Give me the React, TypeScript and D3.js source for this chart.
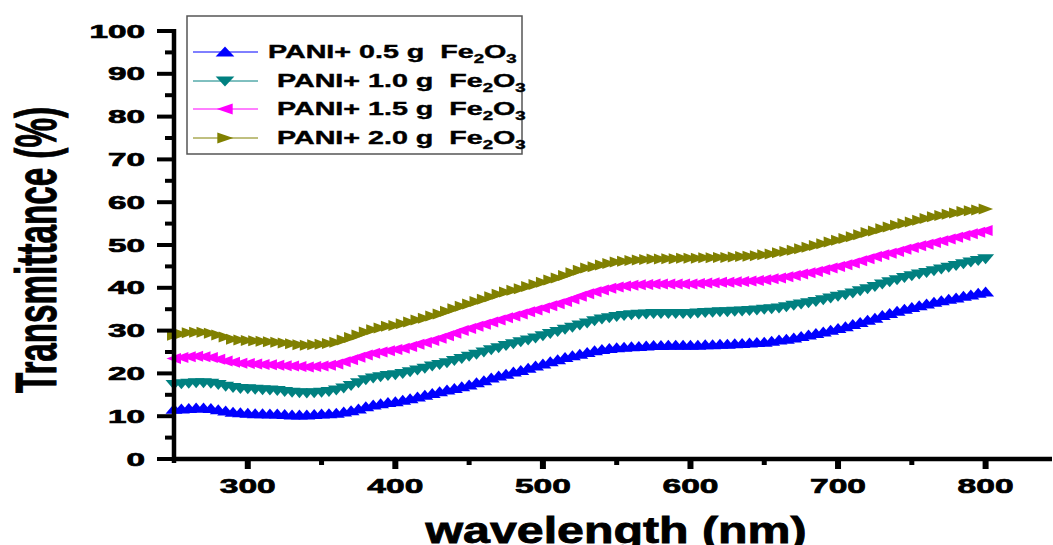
import React from "react";
import * as d3 from "d3";

const WIDTH = 1053;
const HEIGHT = 545;

// wavelength grid (nm), sampled every 5 nm from 250 to 800
const wavelengths: number[] = d3.range(250, 805, 5);

const seriesLabels = ["PANI+ 0.5 g  Fe", "PANI+ 1.0 g  Fe", "PANI+ 1.5 g  Fe", "PANI+ 2.0 g  Fe"];

const pani05: number[] = [
  11.6, 11.7, 11.8, 11.9, 11.9, 11.8, 11.5, 11.2, 10.9, 10.8,
  10.7, 10.6, 10.6, 10.5, 10.5, 10.4, 10.3, 10.3, 10.3, 10.4,
  10.5, 10.6, 10.7, 11.0, 11.3, 11.7, 12.2, 12.6, 12.9, 13.2,
  13.4, 13.7, 14.1, 14.5, 14.9, 15.3, 15.7, 16.1, 16.5, 16.9,
  17.3, 17.8, 18.3, 18.9, 19.4, 19.8, 20.3, 20.7, 21.2, 21.7,
  22.2, 22.7, 23.2, 23.7, 24.1, 24.5, 24.9, 25.3, 25.6, 25.8,
  26.0, 26.1, 26.2, 26.3, 26.4, 26.5, 26.5, 26.6, 26.6, 26.6,
  26.6, 26.6, 26.7, 26.7, 26.8, 26.8, 26.9, 27.0, 27.1, 27.2,
  27.3, 27.5, 27.8, 28.0, 28.3, 28.6, 29.0, 29.3, 29.7, 30.1,
  30.5, 30.9, 31.4, 31.9, 32.4, 32.9, 33.5, 34.0, 34.5, 35.0,
  35.4, 35.8, 36.2, 36.6, 37.0, 37.3, 37.6, 38.0, 38.3, 38.7,
  39.0,
];

const pani10: number[] = [
  17.4, 17.6, 17.7, 17.8, 17.8, 17.7, 17.4, 17.0, 16.7, 16.5,
  16.4, 16.3, 16.2, 16.1, 16.0, 15.8, 15.6, 15.5, 15.4, 15.5,
  15.6, 15.8, 16.1, 16.6, 17.2, 17.8, 18.5, 18.9, 19.2, 19.5,
  19.7, 20.0, 20.4, 20.8, 21.2, 21.7, 22.1, 22.5, 23.0, 23.5,
  24.0, 24.5, 25.0, 25.5, 26.0, 26.5, 26.9, 27.4, 27.8, 28.3,
  28.8, 29.3, 29.8, 30.3, 30.8, 31.3, 31.8, 32.3, 32.7, 33.0,
  33.3, 33.5, 33.7, 33.8, 33.9, 34.0, 34.0, 34.0, 34.0, 34.0,
  34.0, 34.1, 34.2, 34.3, 34.4, 34.4, 34.5, 34.6, 34.7, 34.8,
  35.0, 35.1, 35.3, 35.6, 35.9, 36.2, 36.5, 36.8, 37.2, 37.6,
  38.0, 38.4, 38.8, 39.3, 39.8, 40.3, 40.9, 41.4, 41.9, 42.4,
  42.8, 43.2, 43.6, 44.0, 44.4, 44.8, 45.2, 45.6, 46.0, 46.4,
  46.8,
];

const pani15: number[] = [
  23.5, 23.7, 23.9, 24.0, 23.9, 23.7, 23.3, 22.9, 22.6, 22.4,
  22.3, 22.2, 22.1, 22.0, 21.9, 21.8, 21.7, 21.6, 21.5, 21.6,
  21.7, 21.9, 22.2, 22.7, 23.2, 23.8, 24.3, 24.7, 25.0, 25.3,
  25.6, 25.9, 26.3, 26.8, 27.2, 27.7, 28.2, 28.8, 29.4, 30.0,
  30.5, 31.0, 31.5, 32.0, 32.5, 33.0, 33.4, 33.9, 34.4, 34.8,
  35.3, 35.8, 36.3, 36.8, 37.4, 38.0, 38.6, 39.1, 39.5, 39.9,
  40.2, 40.4, 40.6, 40.7, 40.8, 40.9, 40.9, 40.9, 40.9, 40.9,
  40.9, 41.0, 41.1, 41.2, 41.3, 41.3, 41.4, 41.5, 41.6, 41.7,
  41.9, 42.1, 42.3, 42.6, 42.9, 43.2, 43.5, 43.8, 44.2, 44.6,
  45.0, 45.4, 45.8, 46.3, 46.8, 47.3, 47.7, 48.1, 48.5, 49.0,
  49.4, 49.8, 50.2, 50.6, 51.0, 51.4, 51.8, 52.2, 52.6, 53.0,
  53.4,
];

const pani20: number[] = [
  28.9, 29.2, 29.5, 29.6, 29.6, 29.4, 29.0, 28.5, 28.0, 27.8,
  27.7, 27.6, 27.5, 27.4, 27.3, 27.1, 26.9, 26.7, 26.6, 26.7,
  26.8, 27.0, 27.3, 27.8, 28.4, 29.0, 29.7, 30.2, 30.6, 31.0,
  31.2, 31.6, 32.0, 32.5, 32.9, 33.4, 33.9, 34.5, 35.1, 35.7,
  36.2, 36.8, 37.3, 37.9, 38.5, 39.0, 39.4, 39.8, 40.3, 40.8,
  41.3, 41.8, 42.3, 42.9, 43.5, 44.1, 44.6, 44.9, 45.3, 45.7,
  46.0, 46.2, 46.4, 46.5, 46.6, 46.7, 46.7, 46.8, 46.8, 46.9,
  46.9, 46.9, 47.0, 47.0, 47.1, 47.1, 47.2, 47.3, 47.4, 47.5,
  47.7, 47.9, 48.2, 48.5, 48.8, 49.1, 49.5, 49.9, 50.3, 50.7,
  51.1, 51.5, 51.9, 52.4, 52.9, 53.3, 53.8, 54.2, 54.6, 55.0,
  55.4, 55.8, 56.2, 56.6, 56.9, 57.2, 57.5, 57.8, 58.0, 58.2,
  58.4,
];

const seriesValues = [pani05, pani10, pani15, pani20];
const seriesColors = ["#0000FF", "#008080", "#FF00FF", "#808000"];
const seriesMarkers = ["up", "down", "left", "right"];

const yTicks = [0, 10, 20, 30, 40, 50, 60, 70, 80, 90, 100];
const yMinorTicks = [5, 15, 25, 35, 45, 55, 65, 75, 85, 95];
const xTicks = [300, 400, 500, 600, 700, 800];
const xMinorTicks = [350, 450, 550, 650, 750];

const FONT = "'Liberation Sans', Arial, Helvetica, sans-serif";

function markerPath(kind: string): string {
  // stretched triangles (wide horizontally as in the reference)
  if (kind === "up") return "M0,-5.5L8.5,4.5L-8.5,4.5Z";
  if (kind === "down") return "M0,5.5L8.5,-4.5L-8.5,-4.5Z";
  if (kind === "left") return "M-7.5,0L7,-5.5L7,5.5Z";
  return "M7.5,0L-7,-5.5L-7,5.5Z";
}

export default function App() {
  const x = d3.scaleLinear().domain([250, 845]).range([174, 1052]);
  const y = d3.scaleLinear().domain([0, 100]).range([459, 31]);

  const line = d3
    .line<number>()
    .x((_, i) => x(wavelengths[i]))
    .y((d) => y(d));

  const legendRows = [52, 81, 109, 138];
  const legendTextX = [268, 277, 277, 277];

  return (
    <svg
      width={WIDTH}
      height={HEIGHT}
      style={{ position: "absolute", left: 0, top: 0, background: "#fff" }}
      fontFamily={FONT}
    >
      <rect x={0} y={0} width={WIDTH} height={HEIGHT} fill="#fff" />

      {/* series */}
      {seriesValues.map((vals, si) => (
        <g key={si}>
          <path d={line(vals) || ""} fill="none" stroke={seriesColors[si]} strokeWidth={1} />
          {vals.map((v, i) => (
            <path
              key={i}
              d={markerPath(seriesMarkers[si])}
              transform={`translate(${x(wavelengths[i])},${y(v)})`}
              fill={seriesColors[si]}
            />
          ))}
        </g>
      ))}

      {/* y axis */}
      <line x1={x(250)} x2={x(250)} y1={29} y2={463} stroke="#000" strokeWidth={4.5} />
      {yTicks.map((t) => (
        <g key={"yt" + t}>
          <line x1={x(250) - 17} x2={x(250)} y1={y(t)} y2={y(t)} stroke="#000" strokeWidth={4} />
          <text
            x={145}
            y={y(t) + 6.5}
            textAnchor="end"
            fontSize={19}
            fontWeight="bold"
            stroke="#000"
            strokeWidth={0.7}
            textLength={String(t).length * 18.5}
            lengthAdjust="spacingAndGlyphs"
          >
            {t}
          </text>
        </g>
      ))}
      {yMinorTicks.map((t) => (
        <line key={"ym" + t} x1={x(250) - 9} x2={x(250)} y1={y(t)} y2={y(t)} stroke="#000" strokeWidth={4} />
      ))}

      {/* x axis */}
      <line x1={x(250) - 2} x2={1052} y1={y(0)} y2={y(0)} stroke="#000" strokeWidth={4.5} />
      {xTicks.map((t) => (
        <g key={"xt" + t}>
          <line x1={x(t)} x2={x(t)} y1={y(0)} y2={y(0) + 10} stroke="#000" strokeWidth={6} />
          <text
            x={x(t)}
            y={493}
            textAnchor="middle"
            fontSize={21}
            fontWeight="bold"
            stroke="#000"
            strokeWidth={0.7}
            textLength={56}
            lengthAdjust="spacingAndGlyphs"
          >
            {t}
          </text>
        </g>
      ))}
      {xMinorTicks.map((t) => (
        <line key={"xm" + t} x1={x(t)} x2={x(t)} y1={y(0)} y2={y(0) + 6} stroke="#000" strokeWidth={5} />
      ))}

      {/* axis titles */}
      <text
        x={616}
        y={543}
        textAnchor="middle"
        fontSize={36}
        fontWeight="bold"
        stroke="#000"
        strokeWidth={0.8}
        textLength={381}
        lengthAdjust="spacingAndGlyphs"
      >
        wavelength (nm)
      </text>
      <text
        transform={`translate(56,250) rotate(-90)`}
        textAnchor="middle"
        fontSize={57}
        fontWeight="bold"
        stroke="#000"
        strokeWidth={1}
        textLength={286}
        lengthAdjust="spacingAndGlyphs"
      >
        Transmittance (%)
      </text>

      {/* legend */}
      <rect x={187} y={16} width={335} height={138} fill="#fff" stroke="#555" strokeWidth={1.5} />
      {seriesLabels.map((lab, i) => (
        <g key={"lg" + i}>
          <line x1={193} x2={258} y1={legendRows[i]} y2={legendRows[i]} stroke={seriesColors[i]} strokeWidth={1} />
          <path
            d={markerPath(seriesMarkers[i])}
            transform={`translate(225,${legendRows[i]}) scale(1.1,1)`}
            fill={seriesColors[i]}
          />
          <g transform={`translate(${legendTextX[i]},${legendRows[i] + 6}) scale(1.55,1)`}>
            <text
              x={0}
              y={0}
              fontSize={18.5}
              fontWeight="bold"
              stroke="#000"
              strokeWidth={0.4}
              style={{ whiteSpace: "pre" }}
            >
              {lab}
              <tspan fontSize={12} dy={5}>2</tspan>
              <tspan dy={-5}>O</tspan>
              <tspan fontSize={12} dy={5}>3</tspan>
            </text>
          </g>
        </g>
      ))}
    </svg>
  );
}
